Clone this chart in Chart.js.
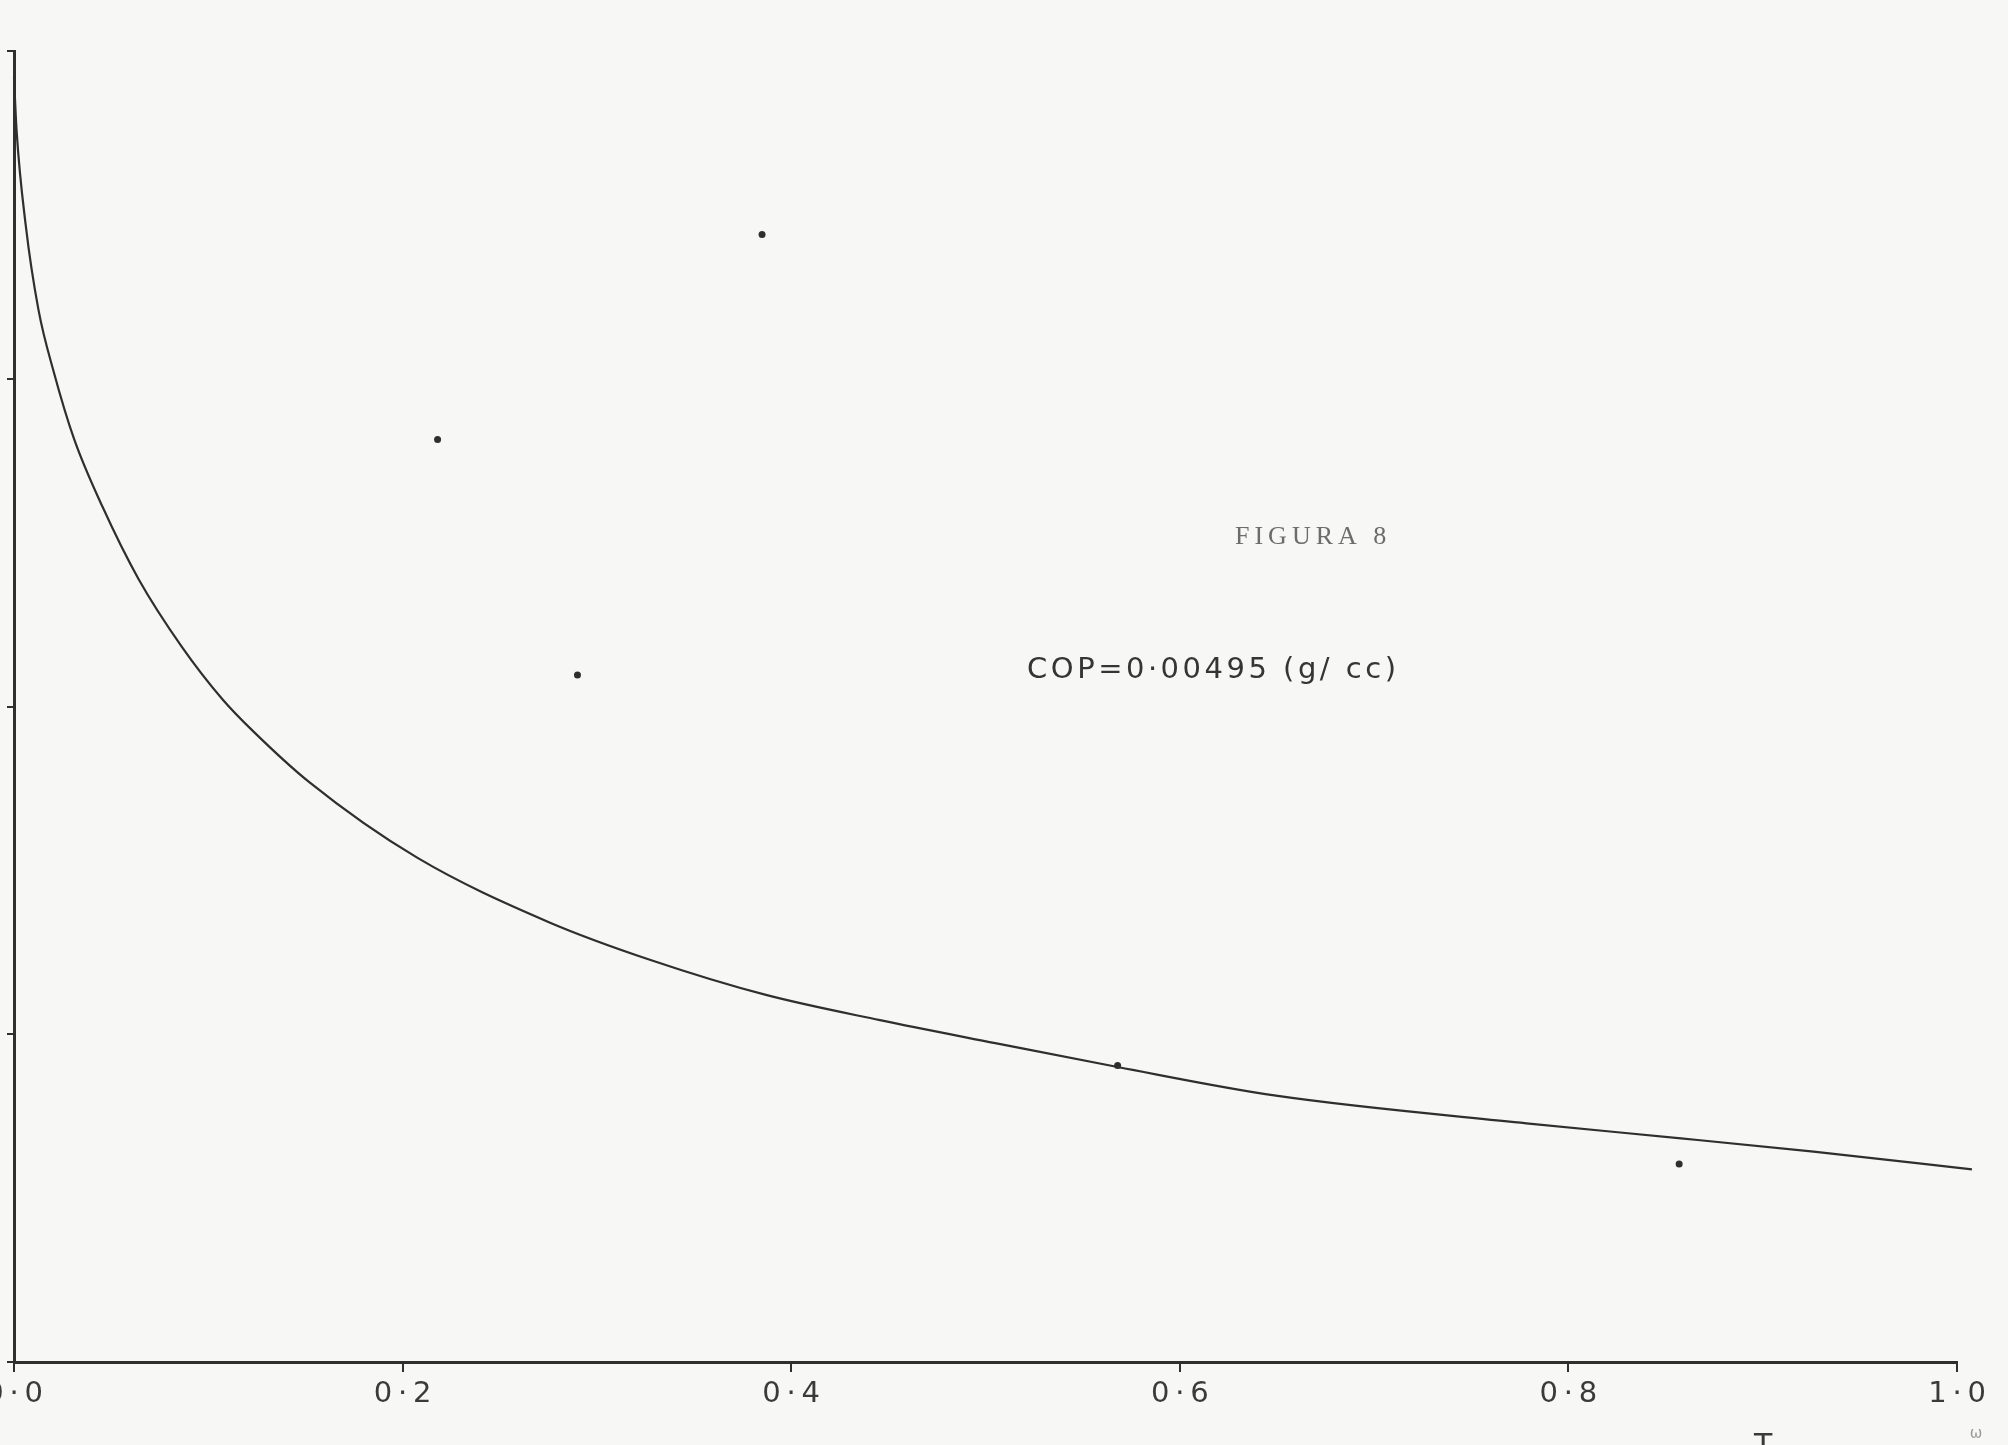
<!DOCTYPE html>
<html>
<head>
<meta charset="utf-8">
<script src="https://cdn.jsdelivr.net/npm/chart.js@4.4.1/dist/chart.umd.min.js"></script>
<style>
  html, body { margin: 0; padding: 0; background: #f7f7f5; }
  canvas { display: block; }
</style>
</head>
<body>
<canvas id="c" width="2008" height="1445"></canvas>
<script>
// Fitted curve: reduced abscissa against ordinate
const curveX = [0, 0.0013, 0.006, 0.0126, 0.0205, 0.031, 0.0455, 0.064, 0.0863,
                0.1076, 0.1225, 0.1518, 0.2077, 0.2753, 0.3284, 0.387, 0.4457, 0.505, 0.568,
                0.6495, 0.7784, 0.8579, 0.9262, 1.0077];
const curveY = [3.92, 3.76, 3.47, 3.21, 3.02, 2.815, 2.61, 2.39, 2.183,
                2.02, 1.928, 1.770, 1.538, 1.342, 1.225, 1.120, 1.043, 0.973, 0.900,
                0.8125, 0.7283, 0.6825, 0.6416, 0.588];

// Isolated plotted points
const pointX = [0.218, 0.290, 0.385, 0.568, 0.857];
const pointY = [2.815, 2.096, 3.44, 0.905, 0.604];

// Axis ticks
const xTicks = [0, 0.2, 0.4, 0.6, 0.8, 1.0];
const xTickLabels = ['0\u2009·\u20090', '0\u2009·\u20092', '0\u2009·\u20094', '0\u2009·\u20096', '0\u2009·\u20098', '1\u2009·\u20090'];
const yTicks = [0, 1, 2, 3, 4];

// Texts
const figureTitle = 'FIGURA 8';
const copLabel = 'COP=0·00495 (g/ cc)';
const axisLabel = 'T';
const axisSub = 'ω';

// Text anchor positions (data units)
const titlePos = [0.6284, 2.517];
const copPos = [0.5214, 2.111];
const axisLabelPos = [0.9002, -0.2136];
const axisSubPos = [1.0098, -0.2197];

const ink = '#2f2f2f';

const textPlugin = {
  id: 'figureTexts',
  afterDatasetsDraw(chart) {
    const { ctx, scales: { x, y } } = chart;
    ctx.save();
    ctx.textBaseline = 'middle';
    ctx.textAlign = 'left';

    ctx.fillStyle = '#6c6c6c';
    ctx.font = '26px "Liberation Serif"';
    ctx.letterSpacing = '5px';
    ctx.fillText(figureTitle, x.getPixelForValue(titlePos[0]), y.getPixelForValue(titlePos[1]));

    ctx.fillStyle = '#353535';
    ctx.font = '29px "DejaVu Sans"';
    ctx.letterSpacing = '3.5px';
    ctx.fillText(copLabel, x.getPixelForValue(copPos[0]), y.getPixelForValue(copPos[1]));

    ctx.letterSpacing = '0px';
    ctx.textAlign = 'center';
    ctx.textBaseline = 'top';
    ctx.fillStyle = '#3a3a3a';
    ctx.font = '30px "DejaVu Sans"';
    ctx.fillText(axisLabel, x.getPixelForValue(axisLabelPos[0]), y.getPixelForValue(axisLabelPos[1]));

    ctx.textBaseline = 'middle';
    ctx.fillStyle = '#9a9a9a';
    ctx.font = '15px "DejaVu Sans"';
    ctx.fillText(axisSub, x.getPixelForValue(axisSubPos[0]), y.getPixelForValue(axisSubPos[1]));
    ctx.restore();
  }
};

new Chart(document.getElementById('c'), {
  data: {
    datasets: [
      {
        type: 'line',
        data: curveX.map((v, i) => ({ x: v, y: curveY[i] })),
        borderColor: ink,
        borderWidth: 2.2,
        pointRadius: 0,
        fill: false,
        cubicInterpolationMode: 'monotone',
        clip: false
      },
      {
        type: 'scatter',
        data: pointX.map((v, i) => ({ x: v, y: pointY[i] })),
        backgroundColor: ink,
        borderColor: ink,
        borderWidth: 0,
        pointRadius: 3.5,
        clip: false
      }
    ]
  },
  options: {
    responsive: false,
    devicePixelRatio: 1,
    animation: false,
    layout: { padding: { top: 51, right: 51, left: 0, bottom: 0 } },
    plugins: { legend: { display: false }, tooltip: { enabled: false } },
    scales: {
      x: {
        type: 'linear',
        min: 0,
        max: 1,
        afterBuildTicks: (s) => { s.ticks = xTicks.map(v => ({ value: v })); },
        afterFit: (s) => { s.height = 83; s.paddingLeft = 0; s.paddingRight = 0; },
        border: { display: true, color: ink, width: 3 },
        grid: { drawOnChartArea: false, drawTicks: true, tickLength: 10, color: ink, lineWidth: 2 },
        ticks: {
          padding: 5,
          maxRotation: 0,
          autoSkip: false,
          color: '#3a3a3a',
          font: { family: 'DejaVu Sans', size: 29 },
          callback: (v) => xTickLabels[xTicks.findIndex(t => Math.abs(t - v) < 1e-9)]
        }
      },
      y: {
        type: 'linear',
        min: 0,
        max: 4,
        afterBuildTicks: (s) => { s.ticks = yTicks.map(v => ({ value: v })); },
        afterFit: (s) => { s.width = 14; s.paddingTop = 0; s.paddingBottom = 0; },
        border: { display: true, color: ink, width: 3 },
        grid: { drawOnChartArea: false, drawTicks: true, tickLength: 7, color: ink, lineWidth: 2 },
        ticks: { display: false }
      }
    }
  },
  plugins: [textPlugin]
});
</script>
</body>
</html>
